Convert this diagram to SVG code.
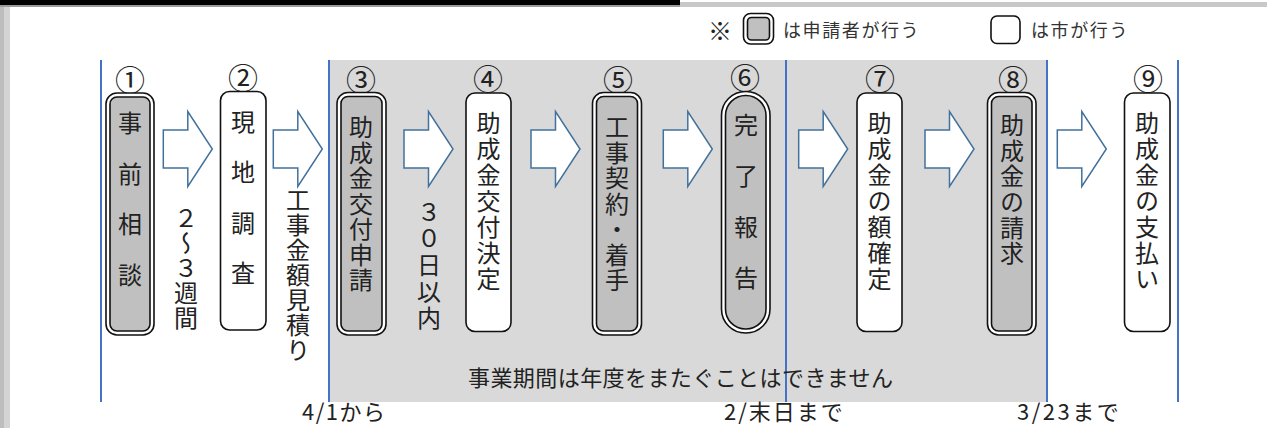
<svg xmlns="http://www.w3.org/2000/svg" width="1267" height="428" viewBox="0 0 1267 428">
<style>
text{font-family:"Noto Sans CJK JP","Noto Sans",sans-serif;fill:#222}
.v{writing-mode:vertical-rl;font-size:24px}
.num{font-size:30px;text-anchor:middle}
.leg{font-size:18px;letter-spacing:1.6px;fill:#333}
.bot{font-size:22px}
.date{font-size:22px}
.sepl{stroke:#4472c4;stroke-width:2;fill:none}
.arr{fill:#fff;stroke:#41719c;stroke-width:1.5;stroke-linejoin:miter}
.wbox{fill:#fff;stroke:#111;stroke-width:1.6}
.dout{fill:#fff;stroke:#111;stroke-width:1.6}
.din{fill:#c0c0c0;stroke:#111;stroke-width:1.6}
</style>
<rect x="0" y="0" width="1267" height="428" fill="#fff"/>
<rect x="0" y="0" width="680" height="5" fill="#000"/>
<rect x="0" y="5" width="680" height="2" fill="#9a9a9a"/>
<rect x="680" y="2" width="587" height="5" fill="#c8c8c8"/>
<rect x="0" y="7" width="10" height="421" fill="#d4d4d4"/>
<rect x="0" y="7" width="4" height="421" fill="#bdbdbd"/>
<rect x="329" y="60" width="718" height="342" fill="#d9d9d9"/>
<g id="separators">
<line class="sepl" x1="101" y1="60" x2="101" y2="402"/>
<line class="sepl" x1="329" y1="60" x2="329" y2="402"/>
<line class="sepl" x1="786" y1="60" x2="786" y2="402"/>
<line class="sepl" x1="1047" y1="60" x2="1047" y2="402"/>
<line class="sepl" x1="1178" y1="60" x2="1178" y2="402"/>
</g>
<g id="legend">
<text x="720" y="40" font-size="24" text-anchor="middle">※</text>
<rect class="dout" x="743.5" y="13.5" width="30" height="30.5" rx="7"/>
<rect class="din" x="747.5" y="17.5" width="22" height="22.5" rx="4"/>
<text class="leg" x="783" y="37">は申請者が行う</text>
<rect class="wbox" x="991" y="16" width="29" height="27.5" rx="6"/>
<text class="leg" x="1031" y="37">は市が行う</text>
</g>
<g id="connectors">
<path class="arr" d="M163.3,130 H187.8 V111.5 L212.3,149 L187.8,186.5 V168 H163.3 Z"/>
<path class="arr" d="M273.3,130 H297.8 V111.5 L322.3,149 L297.8,186.5 V168 H273.3 Z"/>
<path class="arr" d="M404,130 H428.5 V111.5 L453,149 L428.5,186.5 V168 H404 Z"/>
<path class="arr" d="M531,130 H555.5 V111.5 L580,149 L555.5,186.5 V168 H531 Z"/>
<path class="arr" d="M663.3,130 H687.8 V111.5 L712.3,149 L687.8,186.5 V168 H663.3 Z"/>
<path class="arr" d="M798.7,130 H823.2 V111.5 L847.7,149 L823.2,186.5 V168 H798.7 Z"/>
<path class="arr" d="M925,130 H949.5 V111.5 L974,149 L949.5,186.5 V168 H925 Z"/>
<path class="arr" d="M1057.3,130 H1081.8 V111.5 L1106.3,149 L1081.8,186.5 V168 H1057.3 Z"/>
<text class="v" x="186" y="206" style="letter-spacing:1px">２～３週間</text>
<text class="v" x="298" y="188" style="letter-spacing:1px">工事金額見積り</text>
<text class="v" x="429" y="200" style="letter-spacing:2.5px">３０日以内</text>
</g>
<g id="node1">
<text class="num" x="130" y="91">①</text>
<rect class="dout" x="106" y="93" width="48" height="242" rx="11"/>
<rect class="din" x="110" y="97" width="40" height="234" rx="7"/>
<text class="v" x="130" y="111" style="letter-spacing:26.5px">事前相談</text>
</g>
<g id="node2">
<text class="num" x="243" y="89">②</text>
<rect class="wbox" x="220.5" y="91.5" width="45.5" height="238.5" rx="9"/>
<text class="v" x="243" y="110" style="letter-spacing:26.3px">現地調査</text>
</g>
<g id="node3">
<text class="num" x="361" y="91">③</text>
<rect class="dout" x="337" y="92.5" width="49" height="242.5" rx="11"/>
<rect class="din" x="341" y="96.5" width="41" height="234.5" rx="7"/>
<text class="v" x="361" y="115" style="letter-spacing:1.5px">助成金交付申請</text>
</g>
<g id="node4">
<text class="num" x="488" y="90">④</text>
<rect class="wbox" x="466" y="93" width="45" height="238.5" rx="9"/>
<text class="v" x="488.5" y="111" style="letter-spacing:2px">助成金交付決定</text>
</g>
<g id="node5">
<text class="num" x="618" y="91">⑤</text>
<rect class="dout" x="592.5" y="92.5" width="49" height="242.5" rx="11"/>
<rect class="din" x="596.5" y="96.5" width="41" height="234.5" rx="7"/>
<text class="v" x="617" y="115" style="letter-spacing:1.5px">工事契約・着手</text>
</g>
<g id="node6">
<text class="num" x="745" y="89">⑥</text>
<rect class="dout" x="721.5" y="91.5" width="48.5" height="241.5" rx="24"/>
<rect class="din" x="725.5" y="95.5" width="40.5" height="233.5" rx="20"/>
<text class="v" x="746" y="113" style="letter-spacing:27px">完了報告</text>
</g>
<g id="node7">
<text class="num" x="880" y="90">⑦</text>
<rect class="wbox" x="857" y="93" width="45" height="238.5" rx="9"/>
<text class="v" x="879.5" y="111" style="letter-spacing:2px">助成金の額確定</text>
</g>
<g id="node8">
<text class="num" x="1013" y="91">⑧</text>
<rect class="dout" x="987.5" y="92.5" width="48.5" height="242.5" rx="11"/>
<rect class="din" x="991.5" y="96.5" width="40.5" height="234.5" rx="7"/>
<text class="v" x="1012" y="113" style="letter-spacing:1.6px">助成金の請求</text>
</g>
<g id="node9">
<text class="num" x="1148" y="90">⑨</text>
<rect class="wbox" x="1124.5" y="93" width="45.5" height="238.5" rx="9"/>
<text class="v" x="1147" y="111" style="letter-spacing:2px">助成金の支払い</text>
</g>
<g id="labels">
<text class="bot" x="468" y="386" textLength="425">事業期間は年度をまたぐことはできません</text>
<text class="date" x="302" y="420" style="letter-spacing:1.5px">4/1から</text>
<text class="date" x="724" y="420" style="letter-spacing:2px">2/末日まで</text>
<text class="date" x="1017" y="420" style="letter-spacing:2.5px">3/23まで</text>
</g>
</svg>
